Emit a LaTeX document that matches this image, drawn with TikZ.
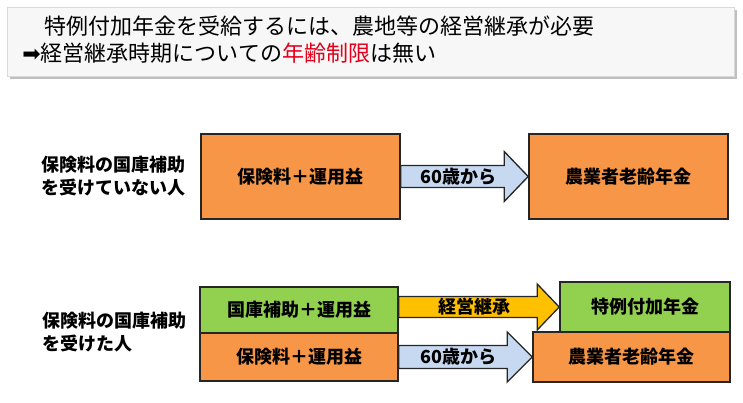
\documentclass[tikz,border=0pt]{standalone}
\usepackage{fontspec}
\setmainfont{Noto Sans CJK JP}
\newfontfamily\arrowfont{DejaVu Sans}
\usetikzlibrary{calc}
\definecolor{boxorange}{HTML}{F79646}
\definecolor{boxgreen}{HTML}{92D050}
\definecolor{arrgold}{HTML}{FFC000}
\definecolor{arrblue}{HTML}{C6D9F1}
\definecolor{boxline}{HTML}{262626}
\definecolor{limitred}{HTML}{E3001B}

\begin{document}
\begin{tikzpicture}[x=0.75pt,y=-0.75pt,
	box/.style={draw=boxline,line width=1.2pt,inner sep=0pt,font=\bfseries\fontsize{13.5}{16}\selectfont},
	barrow/.style={draw=boxline,line width=1pt,line join=miter},
	note/.style={anchor=west,align=left,font=\bfseries\fontsize{13.5}{17.25}\selectfont}]
	\useasboundingbox(0,0)rectangle(743,403);
	% title
	\fill[black!25](10,10)rectangle(737,79);
	\draw[black!15,fill=black!3](7,7)rectangle(734,76);
	\node[anchor=west,align=left,inner sep=0pt,font=\fontsize{16.5}{20.25}\selectfont](title)at(22,40){　特例付加年金を受給するには、農地等の経営継承が必要\\{\arrowfont ➡}経営継承時期についての\textcolor{limitred}{年齢制限}は無い};
	% without subsidy
	\node[note](who1)at(37,176.5){保険料の国庫補助\\を受けていない人};
	\node[box,fill=boxorange,minimum width=149.25pt,minimum height=63.75pt](o1)at(300.5,176.5){保険料＋運用益};
	\node[box,fill=boxorange,minimum width=149.25pt,minimum height=63.75pt](n1)at(628.5,176.5){農業者老齢年金};
	\draw[barrow,fill=arrblue](o1.east)++(0,-11)--($(n1.west)+(-24,-11)$)--($(n1.west)+(-24,-25)$)--(n1.west)
		--($(n1.west)+(-24,25)$)--($(n1.west)+(-24,11)$)--($(o1.east)+(0,11)$)--cycle;
	\node[font=\bfseries\fontsize{13.5}{16}\selectfont](age1)at($(o1.east)!0.45!(n1.west)$){60歳から};
	% with subsidy
	\node[note](who2)at(38,332.5){保険料の国庫補助\\を受けた人};
	\node[box,fill=boxgreen,minimum width=148.5pt,minimum height=34.5pt](gl)at(299,310){国庫補助＋運用益};
	\node[box,fill=boxorange,minimum width=148.5pt,minimum height=36pt](ol)at(299,357){保険料＋運用益};
	\node[box,fill=boxorange,minimum width=147.75pt,minimum height=37.5pt](or)at(631.5,357){農業者老齢年金};
	\node[box,fill=boxgreen,minimum width=127.5pt,minimum height=37.5pt](gr)at(645,307){特例付加年金};
	\draw[barrow,fill=arrgold](gl.east|-gr.west)++(0,-10.5)--($(gr.west)+(-22,-10.5)$)--($(gr.west)+(-22,-23)$)--(gr.west)
		--($(gr.west)+(-22,23)$)--($(gr.west)+(-22,10.5)$)--($(gl.east|-gr.west)+(0,10.5)$)--cycle;
	\node[font=\bfseries\fontsize{13.5}{16}\selectfont](keiei)at($(gl.east|-gr.west)!0.47!(gr.west)$){経営継承};
	\draw[barrow,fill=arrblue](ol.east)++(0,-11.5)--($(or.west)+(-25,-11.5)$)--($(or.west)+(-25,-25)$)--(or.west)
		--($(or.west)+(-25,25)$)--($(or.west)+(-25,11.5)$)--($(ol.east)+(0,11.5)$)--cycle;
	\node[font=\bfseries\fontsize{13.5}{16}\selectfont](age2)at($(ol.east)!0.45!(or.west)$){60歳から};
\end{tikzpicture}
\end{document}
